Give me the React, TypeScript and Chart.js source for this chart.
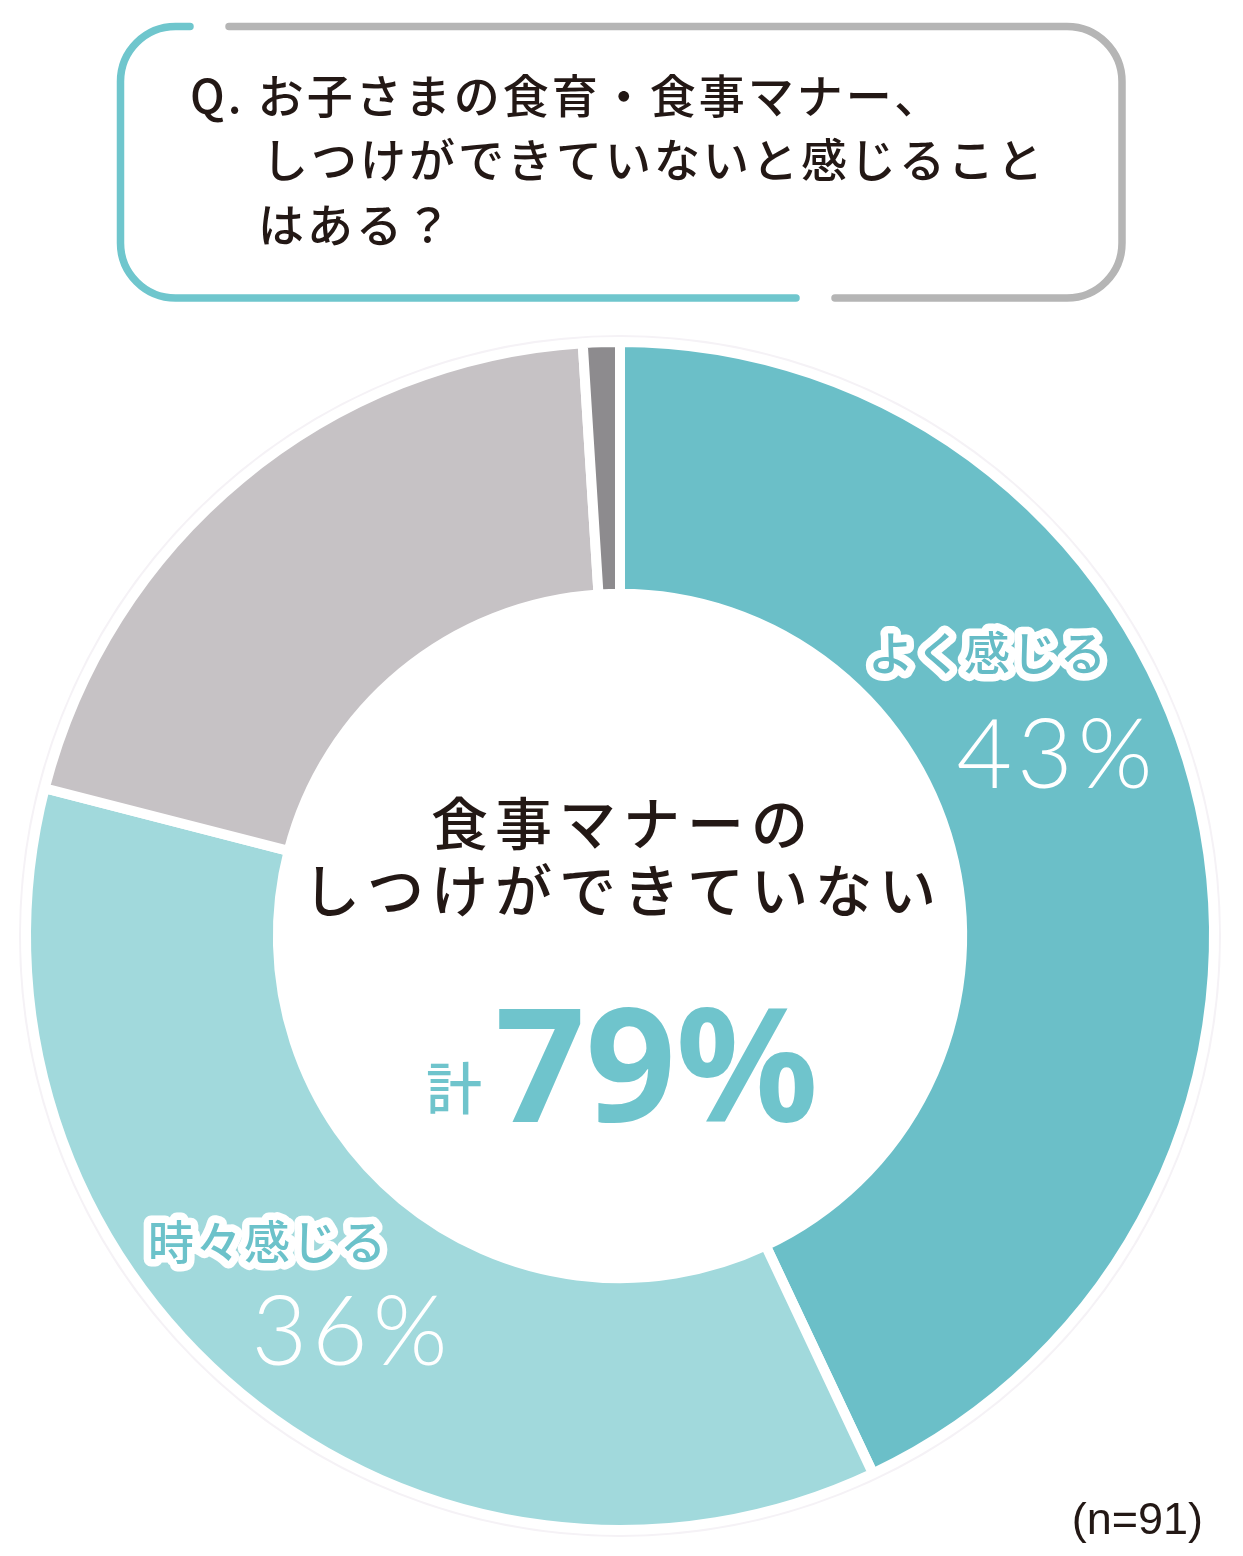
import React, { useEffect, useRef } from "react";
import { Chart, registerables } from "chart.js";

Chart.register(...registerables);

const categories = ["よく感じる", "時々感じる", "あまり感じない", "無回答"];
const values = [43, 36, 20, 1];
const colors = ["#6bbfc8", "#a1d9dc", "#c6c2c5", "#8d8b8e"];
const labeledIndexes = [0, 1];
const titleLines = ["Q. お子さまの食育・食事マナー、", "しつけができていないと感じること", "はある？"];
const centerLines = ["食事マナーの", "しつけができていない"];
const totalPrefix = "計";
const totalValue = 79;
const sampleNote = "(n=91)";

const TEAL = "#6fc4cc";
const TEXT = "#231815";
const JP = '"Noto Sans CJK JP", "Noto Sans", sans-serif';

function drawBox(ctx: CanvasRenderingContext2D) {
  const L = 120.5, T = 26.5, R = 1122, B = 298, r = 55;
  ctx.save();
  ctx.lineWidth = 7.5;
  ctx.lineCap = "round";
  ctx.lineJoin = "round";
  ctx.strokeStyle = "#6fc6cd";
  ctx.beginPath();
  ctx.moveTo(190, T);
  ctx.arcTo(L, T, L, T + r, r);
  ctx.arcTo(L, B, L + r, B, r);
  ctx.lineTo(796, B);
  ctx.stroke();
  ctx.strokeStyle = "#b5b5b5";
  ctx.beginPath();
  ctx.moveTo(229, T);
  ctx.arcTo(R, T, R, T + r, r);
  ctx.arcTo(R, B, R - r, B, r);
  ctx.lineTo(835, B);
  ctx.stroke();
  ctx.restore();
}

const overlay = {
  id: "overlay",
  beforeDatasetsDraw(chart: any) {
    const arc = chart.getDatasetMeta(0).data[0];
    if (!arc) return;
    const ctx = chart.ctx as CanvasRenderingContext2D;
    ctx.save();
    ctx.strokeStyle = "#f5f2f6";
    ctx.lineWidth = 14;
    ctx.beginPath();
    ctx.arc(arc.x, arc.y, arc.outerRadius, 0, Math.PI * 2);
    ctx.stroke();
    ctx.restore();
  },
  afterDraw(chart: any) {
    const ctx = chart.ctx as CanvasRenderingContext2D;
    const arc = chart.getDatasetMeta(0).data[0];
    const cx = arc.x;
    drawBox(ctx);
    ctx.save();
    // title
    ctx.fillStyle = TEXT;
    ctx.font = `500 46px ${JP}`;
    (ctx as any).letterSpacing = "3px";
    ctx.textAlign = "left";
    ctx.textBaseline = "middle";
    ctx.fillText(titleLines[0], 190, 96);
    ctx.fillText(titleLines[1], 262, 160);
    ctx.fillText(titleLines[2], 258, 225);

    // center lines
    ctx.font = `500 57px ${JP}`;
    (ctx as any).letterSpacing = "7px";
    ctx.textAlign = "center";
    ctx.fillText(centerLines[0], cx + 3, 823);
    ctx.fillText(centerLines[1], cx + 3, 890);

    // total
    ctx.fillStyle = TEAL;
    (ctx as any).letterSpacing = "0px";
    ctx.font = `500 56px ${JP}`;
    ctx.textAlign = "center";
    ctx.fillText(totalPrefix, 454, 1088);
    ctx.font = `700 158px "Noto Sans", sans-serif`;
    ctx.textAlign = "left";
    ctx.textBaseline = "alphabetic";
    ctx.fillText(`${totalValue}%`, 495, 1122);

    // segment labels
    const labelPos = [
      { lx: 987, ly: 653, px: 1057, py: 788 },
      { lx: 267, ly: 1242, px: 352, py: 1365 },
    ];
    labeledIndexes.forEach((idx, k) => {
      const p = labelPos[k];
      ctx.font = `500 46px ${JP}`;
      (ctx as any).letterSpacing = "2px";
      ctx.textAlign = "center";
      ctx.textBaseline = "middle";
      ctx.lineJoin = "round";
      ctx.lineWidth = 15;
      ctx.strokeStyle = "#ffffff";
      ctx.strokeText(categories[idx], p.lx + 1, p.ly);
      ctx.fillStyle = idx === 0 ? "#66bcc6" : "#6cc2ca";
      ctx.fillText(categories[idx], p.lx + 1, p.ly);
      ctx.font = `300 96px Lato, "Noto Sans", sans-serif`;
      (ctx as any).letterSpacing = "5px";
      ctx.textBaseline = "alphabetic";
      ctx.fillStyle = "#ffffff";
      ctx.fillText(`${values[idx]}%`, p.px, p.py);
    });

    // note
    (ctx as any).letterSpacing = "0px";
    ctx.fillStyle = TEXT;
    ctx.font = `400 45px "Liberation Sans", Arial, sans-serif`;
    ctx.textAlign = "right";
    ctx.fillText(sampleNote, 1203, 1534);
    ctx.restore();
  },
};

export default function App() {
  const ref = useRef<HTMLCanvasElement | null>(null);
  useEffect(() => {
    if (!ref.current) return;
    const chart = new Chart(ref.current, {
      type: "doughnut",
      data: {
        labels: categories,
        datasets: [
          {
            data: values,
            backgroundColor: colors,
            borderColor: "#ffffff",
            borderWidth: 10,
            hoverOffset: 0,
          },
        ],
      },
      options: {
        responsive: false,
        animation: false,
        devicePixelRatio: 1,
        radius: 594,
        cutout: "57.6%",
        rotation: 0,
        layout: { padding: { top: 330, bottom: 14, left: 0, right: 3 } },
        plugins: { legend: { display: false }, tooltip: { enabled: false } },
        events: [],
      } as any,
      plugins: [overlay],
    });
    return () => chart.destroy();
  }, []);
  return (
    <div style={{ position: "absolute", left: 0, top: 0, width: 1243, height: 1556, background: "#ffffff" }}>
      <canvas ref={ref} width={1243} height={1556} style={{ width: 1243, height: 1556, display: "block" }} />
    </div>
  );
}
